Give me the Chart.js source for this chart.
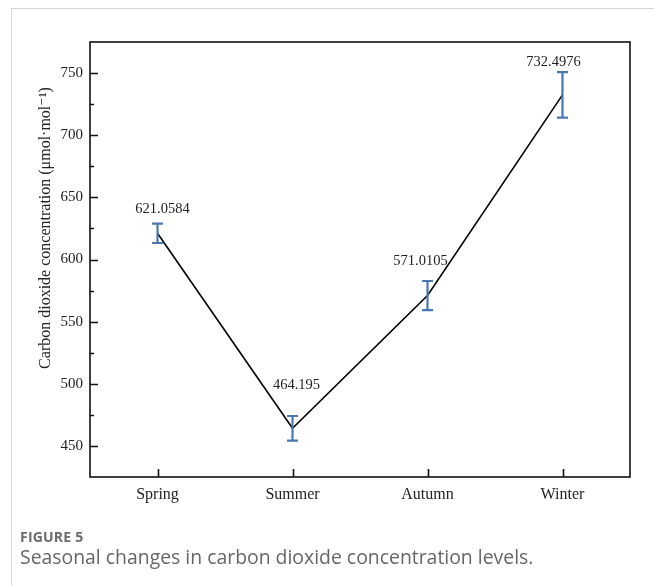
<!DOCTYPE html>
<html>
<head>
<meta charset="utf-8">
<script src="https://cdn.jsdelivr.net/npm/chart.js@4.4.1/dist/chart.umd.min.js"></script>
<style>
  html, body { margin: 0; padding: 0; background: #fff; }
  #wrap { position: relative; width: 654px; height: 586px; overflow: hidden; }
  #card { position: absolute; left: 11px; top: 8px; width: 700px; height: 700px;
          border-left: 1px solid #d6d6d6; border-top: 1px solid #d6d6d6; }
  canvas { position: absolute; left: 0; top: 0; }
  #figno { position: absolute; left: 20px; top: 527px; font-family: "Open Sans", sans-serif;
           font-weight: 700; font-size: 14px; color: #6b6b6b; letter-spacing: 0.2px; }
  #cap { position: absolute; left: 20px; top: 543px; font-family: "Open Sans", sans-serif;
         font-size: 19.4px; color: #666; }
</style>
</head>
<body>
<div id="wrap">
  <div id="card"></div>
  <canvas id="c" width="654" height="586"></canvas>
  <div id="figno">FIGURE 5</div>
  <div id="cap">Seasonal changes in carbon dioxide concentration levels.</div>
</div>
<script>
const categories = ["Spring", "Summer", "Autumn", "Winter"];
const values = [621.0584, 464.195, 571.0105, 732.4976];
const errors = [7.8, 9.9, 11.7, 18.3];
const valueLabels = ["621.0584", "464.195", "571.0105", "732.4976"];
const yTicks = [450, 500, 550, 600, 650, 700, 750];
const yMinorTicks = [475, 525, 575, 625, 675, 725];
const yTitle = "Carbon dioxide concentration (\u03bcmol\u00b7mol\u207b\u00b9)";

const serif = '"Liberation Serif", "DejaVu Serif", serif';

const framePlugin = {
  id: 'frame',
  afterDatasetsDraw(chart) {
    const {ctx, chartArea: a, scales: {x, y}} = chart;
    ctx.save();
    ctx.strokeStyle = '#111';
    ctx.lineWidth = 1.6;
    ctx.strokeRect(a.left, a.top, a.right - a.left, a.bottom - a.top);
    ctx.beginPath();
    yTicks.forEach(v => { const py = Math.round(y.getPixelForValue(v)) + 0.5; ctx.moveTo(a.left, py); ctx.lineTo(a.left + 8, py); });
    yMinorTicks.forEach(v => { const py = Math.round(y.getPixelForValue(v)) + 0.5; ctx.moveTo(a.left, py); ctx.lineTo(a.left + 4, py); });
    categories.forEach((c, i) => { const px = Math.round(x.getPixelForValue(i + 1)) + 0.5; ctx.moveTo(px, a.bottom); ctx.lineTo(px, a.bottom - 8); });
    ctx.stroke();
    ctx.fillStyle = '#222';
    ctx.font = '16px ' + serif;
    ctx.textAlign = 'center';
    ctx.textBaseline = 'middle';
    ctx.translate(46, 228);
    ctx.rotate(-Math.PI / 2);
    ctx.fillText(yTitle, 0, 0);
    ctx.restore();
  }
};

const errorPlugin = {
  id: 'errbars',
  afterDatasetsDraw(chart) {
    const {ctx, scales: {x, y}} = chart;
    ctx.save();
    ctx.strokeStyle = '#4a78b4';
    ctx.lineWidth = 2.2;
    values.forEach((v, i) => {
      const px = x.getPixelForValue(i + 1);
      const top = y.getPixelForValue(v + errors[i]);
      const bot = y.getPixelForValue(v - errors[i]);
      ctx.beginPath();
      ctx.moveTo(px, top); ctx.lineTo(px, bot);
      ctx.moveTo(px - 5.5, top); ctx.lineTo(px + 5.5, top);
      ctx.moveTo(px - 5.5, bot); ctx.lineTo(px + 5.5, bot);
      ctx.stroke();
    });
    ctx.restore();
  }
};

const labelPlugin = {
  id: 'vlabels',
  afterDatasetsDraw(chart, args, opts) {
    const {ctx, scales: {x, y}} = chart;
    ctx.save();
    ctx.fillStyle = '#222';
    ctx.font = '14.5px ' + serif;
    ctx.textAlign = 'center';
    ctx.textBaseline = 'middle';
    values.forEach((v, i) => {
      const px = x.getPixelForValue(i + 1) + opts.offsets[i][0];
      const py = y.getPixelForValue(v) + opts.offsets[i][1];
      ctx.fillText(valueLabels[i], px, py);
    });
    ctx.restore();
  }
};

new Chart(document.getElementById('c'), {
  type: 'line',
  data: {
    datasets: [{
      data: values.map((v, i) => ({x: i + 1, y: v})),
      borderColor: '#000',
      borderWidth: 1.6,
      pointRadius: 0,
      tension: 0,
      fill: false
    }]
  },
  options: {
    responsive: false,
    animation: false,
    events: [],
    layout: { padding: { left: 0, top: 42, right: 24, bottom: 79 } },
    plugins: {
      legend: { display: false },
      tooltip: { enabled: false },
      vlabels: { offsets: [[5, -24], [4, -43], [-7, -34], [-9, -33]] }
    },
    scales: {
      x: {
        type: 'linear', min: 0.5, max: 4.5,
        afterFit: s => { s.height = 30; },
        afterBuildTicks: s => { s.ticks = categories.map((c, i) => ({value: i + 1})); },
        grid: { display: false, drawTicks: false },
        border: { display: false },
        ticks: {
          padding: 8, color: '#222', autoSkip: false, maxRotation: 0,
          font: { family: serif, size: 16 },
          callback: v => categories[Math.round(v) - 1] || ''
        }
      },
      y: {
        type: 'linear', min: 425, max: 775,
        afterFit: s => { s.width = 90; },
        afterBuildTicks: s => { s.ticks = yTicks.map(v => ({value: v})); },
        grid: { display: false, drawTicks: false },
        border: { display: false },
        ticks: {
          padding: 7, color: '#222', autoSkip: false,
          font: { family: serif, size: 15 }
        }
      }
    }
  },
  plugins: [framePlugin, errorPlugin, labelPlugin]
});
</script>
</body>
</html>
